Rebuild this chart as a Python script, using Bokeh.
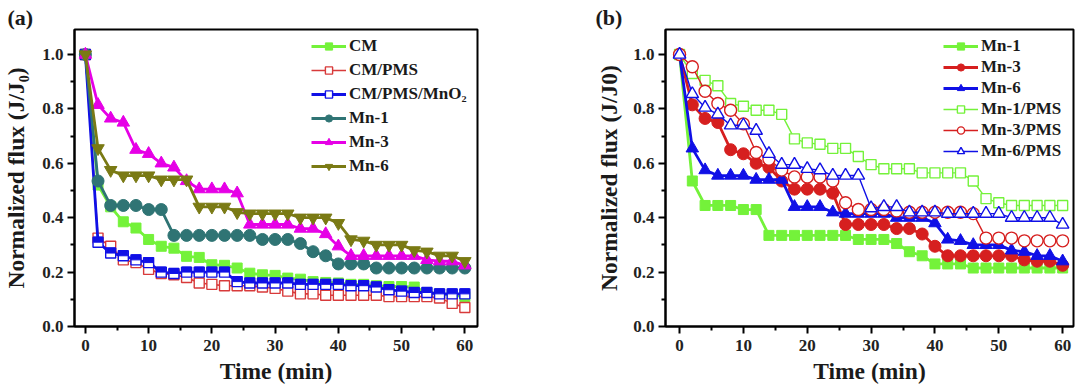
from bokeh.plotting import figure
from bokeh.layouts import row
from bokeh.models import Range1d, Legend, LegendItem, FixedTicker, PrintfTickFormatter
from bokeh.embed import file_html
from bokeh.resources import INLINE

# ---------------- data ----------------
t = [0, 2, 4, 6, 8, 10, 12, 14, 16, 18, 20, 22, 24, 26, 28, 30,
     32, 34, 36, 38, 40, 42, 44, 46, 48, 50, 52, 54, 56, 58, 60]

cm = [1.0, 0.52, 0.44, 0.385, 0.362, 0.32, 0.295, 0.288, 0.258, 0.254, 0.227, 0.225, 0.215, 0.196, 0.19, 0.188,
      0.178, 0.174, 0.165, 0.162, 0.16, 0.155, 0.155, 0.15, 0.147, 0.147, 0.145, 0.125, 0.12, 0.115, 0.11]
cm_pms = [1.0, 0.325, 0.295, 0.245, 0.235, 0.21, 0.195, 0.19, 0.18, 0.16, 0.155, 0.15, 0.15, 0.15, 0.145, 0.14,
          0.13, 0.12, 0.12, 0.115, 0.115, 0.115, 0.115, 0.115, 0.11, 0.11, 0.11, 0.11, 0.105, 0.085, 0.07]
cm_pms_mno2 = [1.0, 0.31, 0.27, 0.26, 0.245, 0.235, 0.2, 0.195, 0.2, 0.2, 0.2, 0.2, 0.165, 0.16, 0.16, 0.16,
               0.16, 0.155, 0.155, 0.155, 0.155, 0.15, 0.15, 0.145, 0.135, 0.13, 0.125, 0.125, 0.12, 0.12, 0.12]
mn1 = [1.0, 0.535, 0.445, 0.445, 0.445, 0.43, 0.43, 0.335, 0.335, 0.335, 0.335, 0.335, 0.335, 0.335, 0.32, 0.32,
       0.32, 0.305, 0.275, 0.26, 0.23, 0.23, 0.23, 0.215, 0.215, 0.215, 0.215, 0.215, 0.215, 0.215, 0.215]
mn3 = [1.0, 0.815, 0.765, 0.75, 0.65, 0.635, 0.6, 0.585, 0.535, 0.505, 0.505, 0.505, 0.49, 0.375, 0.375, 0.375,
       0.375, 0.36, 0.36, 0.34, 0.295, 0.26, 0.26, 0.26, 0.26, 0.26, 0.26, 0.245, 0.24, 0.24, 0.225]
mn6 = [1.0, 0.655, 0.575, 0.555, 0.555, 0.555, 0.54, 0.54, 0.54, 0.44, 0.44, 0.44, 0.42, 0.415, 0.415, 0.415,
       0.415, 0.40, 0.40, 0.40, 0.38, 0.32, 0.315, 0.30, 0.30, 0.30, 0.28, 0.275, 0.26, 0.26, 0.24]
mn1_pms = [1.0, 0.93, 0.905, 0.885, 0.82, 0.81, 0.795, 0.795, 0.78, 0.69, 0.675, 0.67, 0.655, 0.655, 0.625, 0.595,
           0.58, 0.58, 0.58, 0.565, 0.565, 0.565, 0.565, 0.535, 0.47, 0.455, 0.445, 0.445, 0.445, 0.445, 0.445]
mn3_pms = [1.0, 0.955, 0.865, 0.82, 0.795, 0.745, 0.64, 0.615, 0.575, 0.55, 0.55, 0.55, 0.535, 0.455, 0.43, 0.43,
           0.43, 0.425, 0.42, 0.42, 0.42, 0.42, 0.42, 0.415, 0.325, 0.325, 0.325, 0.315, 0.315, 0.315, 0.315]
mn6_pms = [1.0, 0.855, 0.805, 0.78, 0.74, 0.74, 0.72, 0.635, 0.595, 0.595, 0.58, 0.575, 0.555, 0.555, 0.555, 0.435,
           0.44, 0.44, 0.42, 0.42, 0.42, 0.415, 0.415, 0.415, 0.415, 0.415, 0.40, 0.40, 0.40, 0.40, 0.375]

x_ticks = [0, 10, 20, 30, 40, 50, 60]
x_minor = [5, 15, 25, 35, 45, 55]
y_ticks = [0.0, 0.2, 0.4, 0.6, 0.8, 1.0]
y_minor = [0.1, 0.3, 0.5, 0.7, 0.9]

FONT = "Liberation Serif"

GREEN = "#74f23a"
RED_A = "#d83a3a"
BLUE = "#1010e6"
TEAL = "#2f7474"
MAGENTA = "#e600e6"
OLIVE = "#7a7a14"
RED_B = "#d61f1f"

H = 391
TOP = 29
BOTTOM = 65


def make_fig(x0, x1, min_left, min_right, ylabel, ylab_standoff, tag, tag_offset):
    p = figure(width=540, height=H, output_backend="svg", toolbar_location=None,
               x_range=Range1d(x0, x1), y_range=Range1d(0, 1.092),
               min_border_left=min_left, min_border_right=min_right,
               min_border_top=TOP, min_border_bottom=BOTTOM,
               background_fill_color="white", border_fill_color="white",
               title=tag)
    p.title.text_font = FONT
    p.title.text_font_style = "bold"
    p.title.text_font_size = "22px"
    p.title.text_color = "#1a1a1a"
    p.title.align = "left"
    p.title.offset = tag_offset
    p.title.standoff = 0
    p.grid.visible = False
    p.outline_line_color = "black"
    p.outline_line_width = 2
    p.xaxis.ticker = FixedTicker(ticks=x_ticks, minor_ticks=x_minor)
    p.yaxis.ticker = FixedTicker(ticks=y_ticks, minor_ticks=y_minor)
    p.yaxis.formatter = PrintfTickFormatter(format="%.1f")
    for ax in (p.xaxis[0], p.yaxis[0]):
        ax.axis_line_width = 2
        ax.major_tick_line_width = 2
        ax.minor_tick_line_width = 2
        ax.major_tick_in = 0
        ax.major_tick_out = 7
        ax.minor_tick_in = 0
        ax.minor_tick_out = 4
        ax.major_label_text_font = FONT
        ax.major_label_text_font_style = "bold"
        ax.major_label_text_font_size = "17px"
        ax.major_label_text_color = "#222222"
        ax.axis_label_text_font = FONT
        ax.axis_label_text_font_style = "bold"
        ax.axis_label_text_font_size = "23.5px"
        ax.axis_label_text_color = "#1a1a1a"
    p.xaxis.major_label_standoff = 6
    p.yaxis.major_label_standoff = 4
    p.xaxis.axis_label = "Time (min)"
    p.xaxis.axis_label_standoff = 4
    p.yaxis.axis_label = ylabel
    p.yaxis.axis_label_standoff = ylab_standoff
    return p


def add_series(p, y, color, marker, filled, lw, size):
    ln = p.line(t, y, line_color=color, line_width=lw)
    sc = p.scatter(t, y, marker=marker, size=size, line_color=color, line_width=1.4 if not filled else 1,
                   fill_color=color if filled else "white")
    return [ln, sc]


def style_legend(leg):
    leg.border_line_alpha = 0
    leg.background_fill_alpha = 0
    leg.label_text_font = FONT
    leg.label_text_font_style = "bold"
    leg.label_text_font_size = "17px"
    leg.label_text_color = "#1a1a1a"
    leg.glyph_width = 35
    leg.glyph_height = 18
    leg.label_standoff = 3
    leg.spacing = 0
    leg.padding = 0
    leg.margin = 0


# ---------------- panel (a) ----------------
pa = make_fig(-1.72, 62.0, 70, 63, "Normalized flux (J/J\u2080)", 10, "(a)", -67)
r_cm = add_series(pa, cm, GREEN, "square", True, 2.8, 10)
r_cmpms = add_series(pa, cm_pms, RED_A, "square", False, 1.6, 10)
r_mno2 = add_series(pa, cm_pms_mno2, BLUE, "square", False, 2.8, 10)
pa.rect(t, [v + 0.0092 for v in cm_pms_mno2], width=9, height=5,
        width_units="screen", height_units="screen", fill_color=BLUE, line_color=BLUE)
r_mn1 = add_series(pa, mn1, TEAL, "circle", True, 2.8, 12)
r_mn3 = add_series(pa, mn3, MAGENTA, "triangle", True, 2.8, 12.5)
r_mn6 = add_series(pa, mn6, OLIVE, "inverted_triangle", True, 2.8, 12.5)

leg_a = Legend(items=[
    LegendItem(label="CM", renderers=r_cm),
    LegendItem(label="CM/PMS", renderers=r_cmpms),
    LegendItem(label="CM/PMS/MnO\u2082", renderers=r_mno2),
    LegendItem(label="Mn-1", renderers=r_mn1),
    LegendItem(label="Mn-3", renderers=r_mn3),
    LegendItem(label="Mn-6", renderers=r_mn6),
], location=(237, 148))
style_legend(leg_a)
leg_a.label_height = 24
pa.add_layout(leg_a)

# ---------------- panel (b) ----------------
pb = make_fig(-2.2, 61.7, 125, 7, "Normalized flux (J/J0)", 8, "(b)", -70)
r_b1 = add_series(pb, mn1, GREEN, "square", True, 2.8, 10)
r_b3 = add_series(pb, mn3, RED_B, "circle", True, 2.8, 12)
r_b6 = add_series(pb, mn6, BLUE, "triangle", True, 2.8, 12.5)
r_b1p = add_series(pb, mn1_pms, GREEN, "square", False, 1.4, 10)
r_b3p = add_series(pb, mn3_pms, RED_B, "circle", False, 1.4, 12)
r_b6p = add_series(pb, mn6_pms, BLUE, "triangle", False, 1.4, 12.5)

leg_b = Legend(items=[
    LegendItem(label="Mn-1", renderers=r_b1),
    LegendItem(label="Mn-3", renderers=r_b3),
    LegendItem(label="Mn-6", renderers=r_b6),
    LegendItem(label="Mn-1/PMS", renderers=r_b1p),
    LegendItem(label="Mn-3/PMS", renderers=r_b3p),
    LegendItem(label="Mn-6/PMS", renderers=r_b6p),
], location=(278, 165))
style_legend(leg_b)
leg_b.label_height = 21
pb.add_layout(leg_b)

layout = row(pa, pb, spacing=0)
open("out.html", "w").write(file_html(layout, INLINE))
